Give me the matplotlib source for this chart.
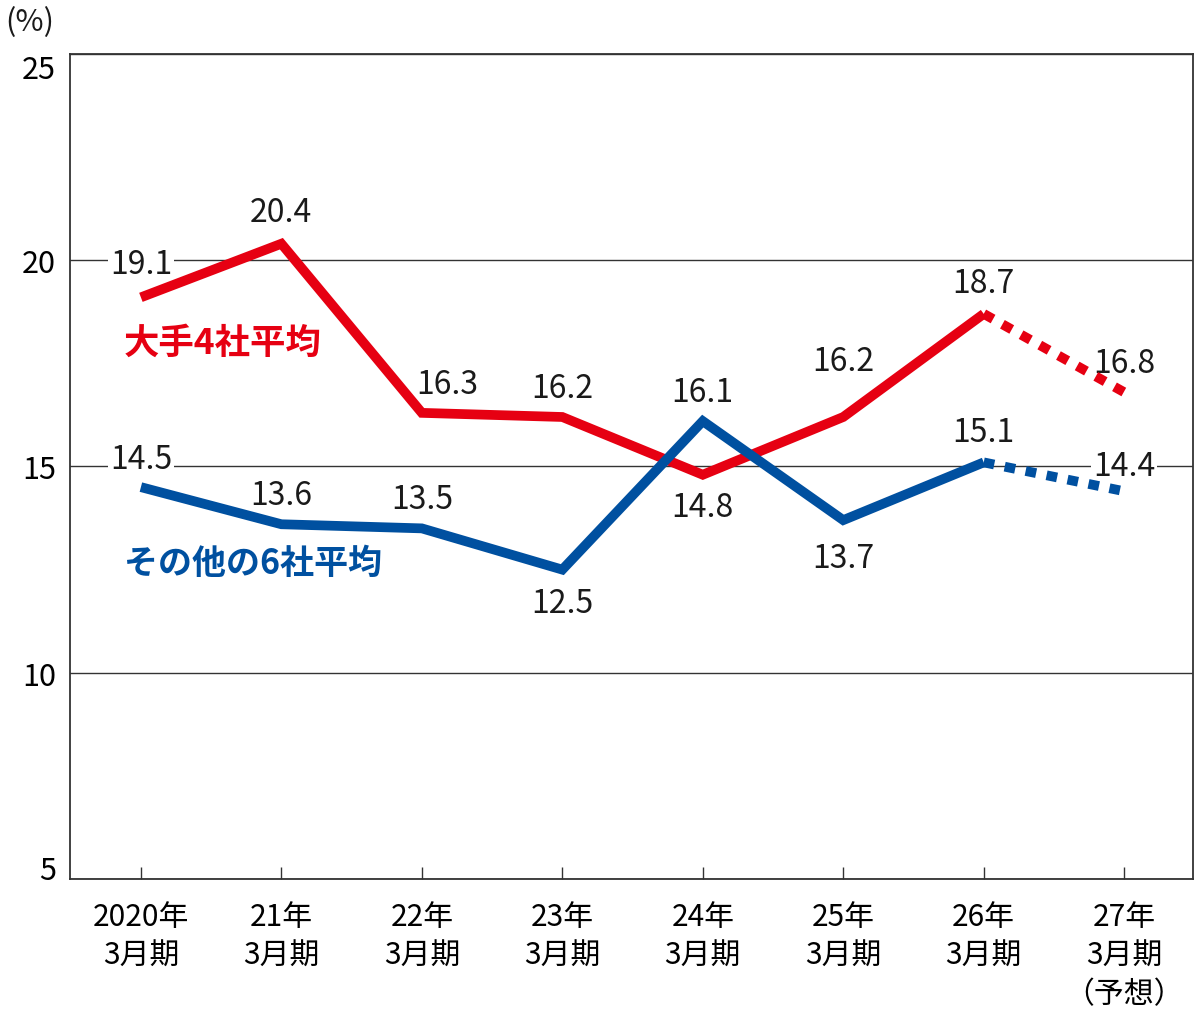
import matplotlib
matplotlib.use("Agg")
import matplotlib.pyplot as plt

plt.rcParams["font.family"] = ["Noto Sans CJK JP", "DejaVu Sans"]

# data
periods = ["2020年\n3月期", "21年\n3月期", "22年\n3月期", "23年\n3月期",
           "24年\n3月期", "25年\n3月期", "26年\n3月期", "27年\n3月期\n（予想）"]
major4 = [19.1, 20.4, 16.3, 16.2, 14.8, 16.2, 18.7, 16.8]
others6 = [14.5, 13.6, 13.5, 12.5, 16.1, 13.7, 15.1, 14.4]
# label offsets (points): positive = above the point
major4_off = [(0, 24), (0, 23), (18, 21), (0, 21), (0, -23), (0, 40), (0, 22), (0, 21)]
others6_off = [(0, 20), (0, 21), (0, 21), (0, -24), (0, 21), (0, -27), (0, 22), (0, 18)]
on_grid = {(0, 0), (1, 0), (1, 7)}

RED = "#e60012"
BLUE = "#0050a0"

fig = plt.figure(figsize=(12, 10.12), dpi=100)
ax = fig.add_axes([0.0583, 0.1304, 0.9359, 0.8153])

x = list(range(len(periods)))
for vals, col in [(major4, RED), (others6, BLUE)]:
    ax.plot(x[:7], vals[:7], color=col, lw=7, solid_joinstyle="miter",
            solid_capstyle="butt", zorder=3)
    ax.plot(x[6:], vals[6:], color=col, lw=7, linestyle=(0, (1.1, 1.1)),
            dash_capstyle="butt", zorder=3)

for s, (vals, offs) in enumerate([(major4, major4_off), (others6, others6_off)]):
    for i, (v, o) in enumerate(zip(vals, offs)):
        kw = {}
        if (s, i) in on_grid:
            kw["bbox"] = dict(boxstyle="square,pad=0.05", fc="white", ec="none")
        ax.annotate(f"{v:.1f}", (i, v), xytext=o, textcoords="offset points",
                    ha="center", va="center", fontsize=23, color="#1a1a1a",
                    zorder=2.5, **kw)

ax.text(-0.12, 18.02, "大手4社平均", color=RED, fontsize=25.5, fontweight="bold",
        ha="left", va="center")
ax.text(-0.12, 12.68, "その他の6社平均", color=BLUE, fontsize=24.5, fontweight="bold",
        ha="left", va="center")

ax.set_xlim(-0.505, 7.49)
ax.set_ylim(5, 25)
ax.set_yticks([5, 10, 15, 20, 25])
ax.yaxis.grid(True, color="#333333", lw=1)
ax.set_axisbelow(True)
ax.set_xticks(x)
ax.set_xticklabels(periods, fontsize=21.5, linespacing=1.3)
ax.tick_params(axis="x", direction="in", length=9, width=1, color="#333333", pad=16)
ax.tick_params(axis="y", length=0, pad=10, labelsize=22)
ylabels = ax.get_yticklabels()
ylabels[0].set_va("baseline")
ylabels[-1].set_va("top")
for sp in ax.spines.values():
    sp.set_linewidth(1.3)
    sp.set_color("#333333")

fig.text(0.004, 0.978, "(%)", fontsize=22, ha="left", va="center", color="#1a1a1a")

fig.savefig("out.png", dpi=100)
